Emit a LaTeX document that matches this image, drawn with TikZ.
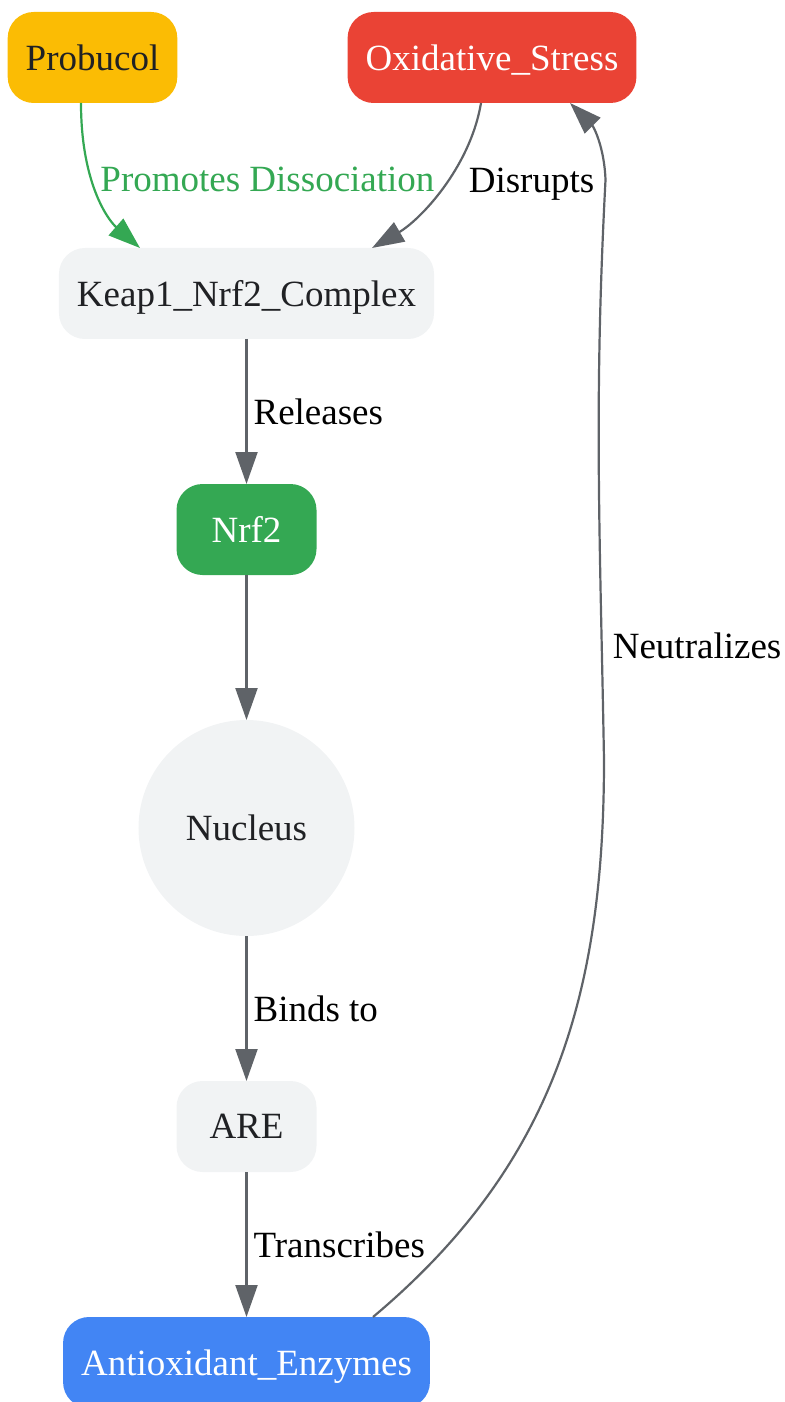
\documentclass[tikz,border=0pt]{standalone}
\usepackage{fontspec}
\setmainfont{Liberation Serif}
\usetikzlibrary{arrows.meta, positioning, calc}
\definecolor{gyellow}{HTML}{FBBC04}
\definecolor{gred}{HTML}{EA4335}
\definecolor{ggreen}{HTML}{34A853}
\definecolor{gblue}{HTML}{4285F4}
\definecolor{glight}{HTML}{F1F3F4}
\definecolor{gdark}{HTML}{202124}
\definecolor{ggray}{HTML}{5F6368}
\newcommand{\labelfont}{\fontsize{18.5}{22}\selectfont}
\tikzstyle{box} = [rectangle, rounded corners=13pt, minimum width=70pt, minimum height=45.5pt, inner xsep=9pt, outer sep=0pt, text depth=0pt, text centered, fill=glight, text=gdark, font=\labelfont]
\tikzstyle{drug} = [box, fill=gyellow]
\tikzstyle{stress} = [box, fill=gred, text=white]
\tikzstyle{factor} = [box, fill=ggreen, text=white]
\tikzstyle{product} = [box, fill=gblue, text=white]
\tikzstyle{organelle} = [circle, minimum size=108pt, outer sep=0pt, fill=glight, text=gdark, font=\labelfont]
\tikzstyle{connector} = [draw=ggray, line width=1.1pt, -{Triangle[length=16pt, width=11pt]}]
\tikzstyle{promoter} = [connector, draw=ggreen]
\tikzstyle{edgelabel} = [font=\labelfont, text=black, inner sep=3pt]

\begin{document}
\begin{tikzpicture}[node distance=72.5pt]
    \useasboundingbox (-123.25pt,146.75pt) rectangle (269.25pt,-554.25pt);
    % Nodes
    \node [box] (keap) {Keap1\_Nrf2\_Complex};
    \node [drug, above=of keap, xshift=-77pt] (probucol) {Probucol};
    \node [stress, above=of keap, xshift=122.75pt] (stress) {Oxidative\_Stress};
    \node [factor, below=of keap] (nrf2) {Nrf2};
    \node [organelle, below=of nrf2] (nucleus) {Nucleus};
    \node [box, below=of nucleus] (are) {ARE};
    \node [product, below=of are] (enzymes) {Antioxidant\_Enzymes};
    \coordinate (loopLow) at (178.75pt,-233.25pt);
    \coordinate (loopHigh) at (179.5pt,56.75pt);

    % Arrows
    \path [promoter] ([xshift=-5.75pt]probucol.south) .. controls +(0,-40pt) and +(-16pt,14pt) .. node[pos=0.45, anchor=west, edgelabel, text=ggreen, xshift=-1pt, yshift=4.5pt] {Promotes Dissociation} ([xshift=-53.25pt]keap.north);
    \path [connector] ([xshift=-5.5pt]stress.south) .. controls +(-5.5pt,-32.5pt) and +(24pt,14pt) .. node[pos=0.4, anchor=west, edgelabel, xshift=5pt, yshift=-5pt] {Disrupts} ([xshift=62.75pt]keap.north);
    \path [connector] (keap) -- node[right, edgelabel] {Releases} (nrf2);
    \path [connector] (nrf2) -- (nucleus);
    \path [connector] (nucleus) -- node[right, edgelabel] {Binds to} (are);
    \path [connector] (are) -- node[right, edgelabel] {Transcribes} (enzymes);
    \path [connector] ([xshift=63.25pt]enzymes.north) to[out=40, in=-90] (loopLow)
        to[out=91, in=-93] node[pos=0.18, anchor=west, edgelabel, xshift=2pt] {Neutralizes} (loopHigh)
        to[out=92, in=-45] ([xshift=39pt]stress.south);
\end{tikzpicture}
\end{document}
